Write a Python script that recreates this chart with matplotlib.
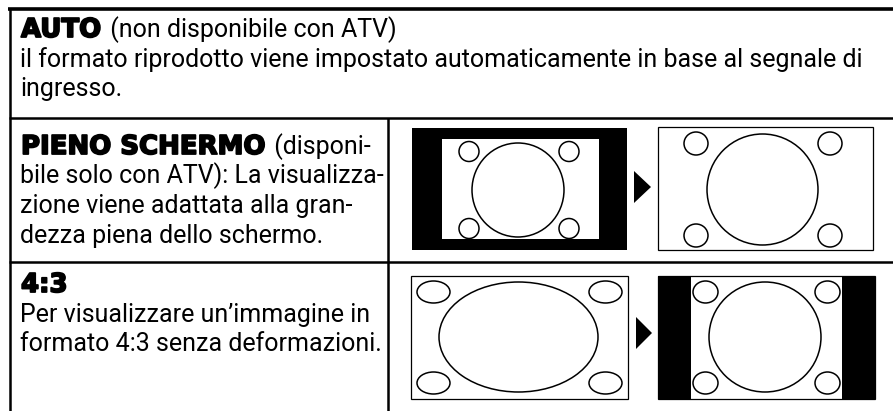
import matplotlib
matplotlib.use("Agg")
import matplotlib.pyplot as plt
import matplotlib.patheffects as pe
from matplotlib.patches import Rectangle, Ellipse, Polygon

W, H = 893, 411

# texts of the three rows
row_titles = ["AUTO", "PIENO SCHERMO", "4:3"]
row_notes = [" (non disponibile con ATV)", " (disponi-", ""]
row_lines = [
    ["il formato riprodotto viene impostato automaticamente in base al segnale di",
     "ingresso."],
    ["bile solo con ATV): La visualizza-",
     "zione viene adattata alla gran-",
     "dezza piena dello schermo."],
    ["Per visualizzare un\u2019immagine in",
     "formato 4:3 senza deformazioni."],
]
title_baselines = [37, 154, 292]
line_gap = 29.5

BODY = "Roboto"
HEAD = "DejaVu Sans"
HEAVY = [pe.withStroke(linewidth=1.3, foreground="black")]


def fit_size(ax, renderer, text, target, **kw):
    t = ax.text(0, 0, text, fontsize=10, **kw)
    w = t.get_window_extent(renderer).width
    t.remove()
    return 10 * target / w


def frame(ax, x0, y0, x1, y1):
    ax.add_patch(Rectangle((x0, y0), x1 - x0, y1 - y0, fc="white", ec="black", lw=0.9))


def black(ax, x0, y0, x1, y1):
    ax.add_patch(Rectangle((x0, y0), x1 - x0, y1 - y0, fc="black", ec="black", lw=0))


def oval(ax, cx, cy, w, h):
    ax.add_patch(Ellipse((cx, cy), w, h, fc="none", ec="black", lw=1.1))


def arrow(ax, x0, x1, cy, h):
    ax.add_patch(Polygon([(x0, cy - h / 2), (x1, cy), (x0, cy + h / 2)],
                         closed=True, fc="black", ec="none"))


def main():
    fig = plt.figure(figsize=(W / 100, H / 100), dpi=100)
    ax = fig.add_axes([0, 0, 1, 1])
    ax.set_xlim(0, W)
    ax.set_ylim(H, 0)
    ax.axis("off")
    renderer = fig.canvas.get_renderer()

    body_fs = fit_size(ax, renderer, row_lines[0][0], 843, family=BODY)
    head_fs = fit_size(ax, renderer, row_titles[1], 245, family=HEAD, weight="bold")

    # table lines
    ax.plot([8, W], [9, 9], color="black", lw=2.6, solid_capstyle="butt")
    ax.plot([9.5, 9.5], [9, H], color="black", lw=1.8, solid_capstyle="butt")
    for y in (118, 262):
        ax.plot([9, W], [y, y], color="black", lw=1.8, solid_capstyle="butt")
    ax.plot([388, 388], [118, H], color="black", lw=1.8, solid_capstyle="butt")

    # text
    for title, note, lines, yb in zip(row_titles, row_notes, row_lines, title_baselines):
        t = ax.text(21, yb, title, family=HEAD, weight="bold", fontsize=head_fs,
                    va="baseline", ha="left", path_effects=HEAVY)
        if note:
            bb = t.get_window_extent(renderer)
            x_end = ax.transData.inverted().transform((bb.x1, bb.y0))[0]
            ax.text(x_end + 3, yb, note, family=BODY, fontsize=body_fs,
                    va="baseline", ha="left")
        for i, line in enumerate(lines):
            ax.text(20, yb + line_gap * (i + 1), line, family=BODY, fontsize=body_fs,
                    va="baseline", ha="left")

    # row 2: boxed picture -> full screen
    black(ax, 412, 128, 627, 250)
    ax.add_patch(Rectangle((442, 139), 157, 100, fc="white", ec="none"))
    oval(ax, 518, 190, 92, 94)
    for cx in (469, 569):
        for cy in (151.5, 228.5):
            oval(ax, cx, cy, 20, 20)
    arrow(ax, 634, 651, 187, 32)
    frame(ax, 658, 127, 873, 250)
    oval(ax, 762.5, 189.5, 111, 111)
    for cx in (696, 830):
        for cy in (143.5, 235.5):
            oval(ax, cx, cy, 24, 23)

    # row 3: stretched picture -> 4:3 with side bars
    frame(ax, 411, 276, 628, 399)
    oval(ax, 518.5, 337, 159, 110)
    for cx in (433.5, 605.5):
        for cy in (292, 383):
            oval(ax, cx, cy, 33, 22)
    arrow(ax, 636, 652, 333, 32)
    frame(ax, 658, 276, 875, 399)
    black(ax, 658, 276, 691, 399)
    black(ax, 842, 276, 875, 399)
    oval(ax, 765, 337, 112, 110)
    for cx in (705.5, 827.5):
        for cy in (292, 383):
            oval(ax, cx, cy, 25, 22)

    fig.savefig("out.png", dpi=100)


if __name__ == "__main__":
    main()
